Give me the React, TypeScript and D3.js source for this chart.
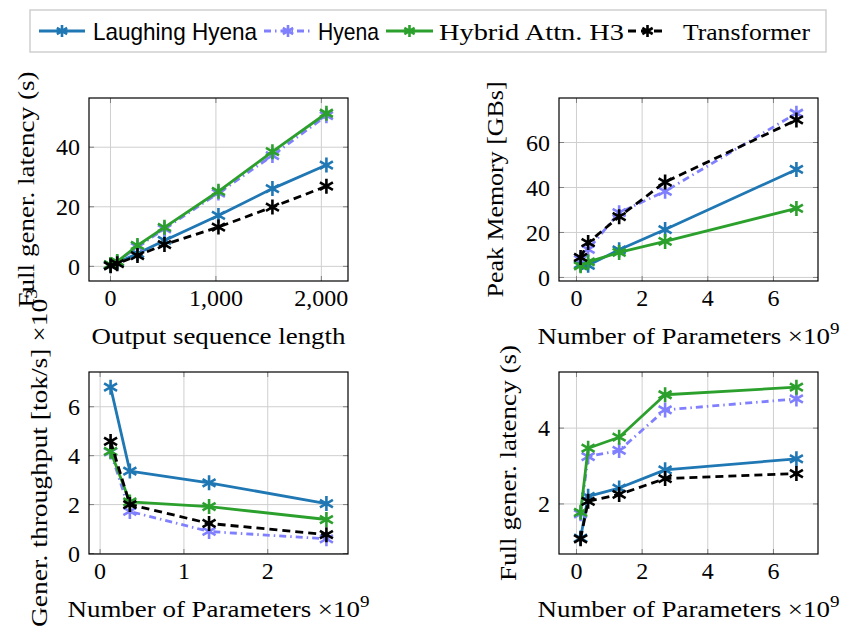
import React from "react";
import * as d3 from "d3";

// ---------- data ----------
const seqLen = [1, 64, 256, 512, 1024, 1536, 2048];
const latSeqLH = [0.3, 1.2, 4.3, 8.7, 17.1, 26.1, 34.0];
const latSeqHyena = [0.5, 1.5, 6.5, 12.6, 24.6, 37.2, 50.6];
const latSeqH3 = [0.6, 1.6, 7.0, 13.1, 25.2, 38.5, 51.4];
const latSeqTF = [0.2, 0.9, 3.6, 7.3, 13.2, 19.9, 26.9];

const params = [0.125, 0.355, 1.3, 2.7, 6.7];
const memLH = [5.8, 5.4, 12.3, 21.3, 48.0];
const memHyena = [8.0, 12.5, 28.8, 38.3, 73.0];
const memH3 = [5.2, 6.9, 11.1, 16.0, 30.7];
const memTF = [8.9, 15.5, 27.0, 42.4, 70.0];

const paramsTp = [0.125, 0.355, 1.3, 2.7];
const tpLH = [6.8, 3.37, 2.89, 2.04];
const tpHyena = [4.15, 1.72, 0.9, 0.6];
const tpH3 = [4.18, 2.11, 1.92, 1.39];
const tpTF = [4.58, 2.0, 1.23, 0.77];

const latLH = [1.1, 2.2, 2.42, 2.9, 3.19];
const latHyena = [1.74, 3.25, 3.41, 4.48, 4.77];
const latH3 = [1.78, 3.47, 3.76, 4.88, 5.08];
const latTF = [1.08, 2.07, 2.25, 2.67, 2.8];

const seriesNames = ["Laughing Hyena", "Hyena", "Hybrid Attn. H3", "Transformer"];

const xTicksSeq = [0, 1000, 2000];
const yTicksSeq = [0, 20, 40];
const xTicksParams = [0, 2, 4, 6];
const yTicksMem = [0, 20, 40, 60];
const xTicksTp = [0, 1, 2];
const yTicksTp = [0, 2, 4, 6];
const yTicksLat = [2, 4];

// ---------- styles ----------
const SERIF = "'Liberation Serif', 'Times New Roman', serif";
const SANS = "'Liberation Sans', Arial, sans-serif";
const STYLES = [
  { color: "#1f77b4", dash: null as string | null, font: SANS },
  { color: "#8080ff", dash: "7,4,1.5,4", font: SANS },
  { color: "#2ca02c", dash: null, font: SERIF },
  { color: "#000000", dash: "8,5", font: SERIF },
];

function starPath(cx: number, cy: number, r: number) {
  const c = Math.cos(Math.PI / 6) * r;
  const s = Math.sin(Math.PI / 6) * r;
  return `M${cx},${cy - r}L${cx},${cy + r}M${cx - c},${cy - s}L${cx + c},${cy + s}M${cx - c},${cy + s}L${cx + c},${cy - s}`;
}

function enlarged(vals: number[]) {
  const [lo, hi] = d3.extent(vals) as [number, number];
  const p = (hi - lo) * 0.1;
  return [lo - p, hi + p];
}

type PanelProps = {
  box: { x: number; y: number; w: number; h: number };
  xs: number[];
  ys: number[][];
  xTicks: number[];
  yTicks: number[];
  xFmt?: (v: number) => string;
  xLabel: React.ReactNode;
  xLabelLen: number;
  yLabel: React.ReactNode;
  yLabelLen: number;
  yLabelX: number;
  yLabelCY: number;
};

function Panel(p: PanelProps) {
  const { box } = p;
  const x = d3.scaleLinear().domain(enlarged(p.xs)).range([box.x, box.x + box.w]);
  const y = d3.scaleLinear().domain(enlarged(p.ys.flat())).range([box.y + box.h, box.y]);
  const line = d3
    .line<number>()
    .x((_, i) => x(p.xs[i]))
    .y((d) => y(d));
  const fmt = p.xFmt || ((v: number) => String(v));
  const tickLen = 5;
  return (
    <g>
      {/* grid */}
      {p.xTicks.map((t) => (
        <line key={"gx" + t} x1={x(t)} x2={x(t)} y1={box.y} y2={box.y + box.h} stroke="#cfcfcf" strokeWidth={1} />
      ))}
      {p.yTicks.map((t) => (
        <line key={"gy" + t} x1={box.x} x2={box.x + box.w} y1={y(t)} y2={y(t)} stroke="#cfcfcf" strokeWidth={1} />
      ))}
      {/* tick marks */}
      {p.xTicks.map((t) => (
        <g key={"tx" + t} stroke="#808080" strokeWidth={1}>
          <line x1={x(t)} x2={x(t)} y1={box.y + box.h} y2={box.y + box.h - tickLen} />
          <line x1={x(t)} x2={x(t)} y1={box.y} y2={box.y + tickLen} />
        </g>
      ))}
      {p.yTicks.map((t) => (
        <g key={"ty" + t} stroke="#808080" strokeWidth={1}>
          <line x1={box.x} x2={box.x + tickLen} y1={y(t)} y2={y(t)} />
          <line x1={box.x + box.w} x2={box.x + box.w - tickLen} y1={y(t)} y2={y(t)} />
        </g>
      ))}
      {/* frame */}
      <rect x={box.x} y={box.y} width={box.w} height={box.h} fill="none" stroke="#000" strokeWidth={1.2} />
      {/* series */}
      {p.ys.map((vals, si) => {
        const st = STYLES[si];
        return (
          <g key={"s" + si}>
            <path
              d={line(vals) || ""}
              fill="none"
              stroke={st.color}
              strokeWidth={2.8}
              strokeDasharray={st.dash || undefined}
              strokeLinejoin="round"
            />
            {vals.map((v, i) => (
              <path key={i} d={starPath(x(p.xs[i]), y(v), 7.5)} stroke={st.color} strokeWidth={2.6} fill="none" />
            ))}
          </g>
        );
      })}
      {/* tick labels */}
      {p.xTicks.map((t) => (
        <text key={"lx" + t} x={x(t)} y={box.y + box.h + 25} textAnchor="middle" fontFamily={SERIF} fontSize={24} fill="#000">
          {fmt(t)}
        </text>
      ))}
      {p.yTicks.map((t) => (
        <text key={"ly" + t} x={box.x - 9} y={y(t)} dy="0.34em" textAnchor="end" fontFamily={SERIF} fontSize={24} fill="#000">
          {t}
        </text>
      ))}
      {/* axis labels */}
      <text
        x={box.x + box.w / 2}
        y={box.y + box.h + 63}
        textAnchor="middle"
        fontFamily={SERIF}
        fontSize={24}
        textLength={p.xLabelLen}
        lengthAdjust="spacingAndGlyphs"
        fill="#000"
      >
        {p.xLabel}
      </text>
      <text
        transform={`translate(${p.yLabelX},${p.yLabelCY}) rotate(-90)`}
        textAnchor="middle"
        fontFamily={SERIF}
        fontSize={24}
        textLength={p.yLabelLen}
        lengthAdjust="spacingAndGlyphs"
        fill="#000"
      >
        {p.yLabel}
      </text>
    </g>
  );
}

const paramsLabel = (
  <>
    Number of Parameters ×10<tspan dy={-10} fontSize={17}>9</tspan>
  </>
);

function Legend() {
  const entries = [
    { x1: 39, x2: 85, tx: 93, tl: 164 },
    { x1: 264, x2: 312, tx: 318, tl: 61 },
    { x1: 386, x2: 433, tx: 439, tl: 185 },
    { x1: 628, x2: 667, tx: 683, tl: 127 },
  ];
  const cy = 31;
  return (
    <g>
      <rect x={30} y={10} width={796} height={42} fill="#fff" stroke="#cccccc" strokeWidth={1.4} />
      {entries.map((e, i) => {
        const st = STYLES[i];
        return (
          <g key={i}>
            <line x1={e.x1} x2={e.x2} y1={cy} y2={cy} stroke={st.color} strokeWidth={2.8} strokeDasharray={st.dash || undefined} />
            <path d={starPath((e.x1 + e.x2) / 2, cy, 6)} stroke={st.color} strokeWidth={2.6} fill="none" />
            <text x={e.tx} y={cy + 8.5} fontFamily={st.font} fontSize={24} textLength={e.tl} lengthAdjust="spacingAndGlyphs" fill="#000">
              {seriesNames[i]}
            </text>
          </g>
        );
      })}
    </g>
  );
}

export default function App() {
  return (
    <svg width={844} height={637} viewBox="0 0 844 637" style={{ display: "block", position: "absolute", left: 0, top: 0, background: "#fff" }}>
      <rect x={0} y={0} width={844} height={637} fill="#fff" />
      <Legend />
      <Panel
        box={{ x: 89, y: 98, w: 259, h: 183 }}
        xs={seqLen}
        ys={[latSeqLH, latSeqHyena, latSeqH3, latSeqTF]}
        xTicks={xTicksSeq}
        yTicks={yTicksSeq}
        xFmt={d3.format(",")}
        xLabel="Output sequence length"
        xLabelLen={254}
        yLabel="Full gener. latency (s)"
        yLabelLen={236}
        yLabelX={34}
        yLabelCY={189.5}
      />
      <Panel
        box={{ x: 559, y: 98, w: 259, h: 183 }}
        xs={params}
        ys={[memLH, memHyena, memH3, memTF]}
        xTicks={xTicksParams}
        yTicks={yTicksMem}
        xLabel={paramsLabel}
        xLabelLen={302}
        yLabel="Peak Memory [GBs]"
        yLabelLen={216}
        yLabelX={503}
        yLabelCY={189.5}
      />
      <Panel
        box={{ x: 89, y: 372, w: 259, h: 182 }}
        xs={paramsTp}
        ys={[tpLH, tpHyena, tpH3, tpTF]}
        xTicks={xTicksTp}
        yTicks={yTicksTp}
        xLabel={paramsLabel}
        xLabelLen={302}
        yLabel={
          <>
            Gener. throughput [tok/s] ×10<tspan dy={-10} fontSize={17}>3</tspan>
          </>
        }
        yLabelLen={338}
        yLabelX={47}
        yLabelCY={458}
      />
      <Panel
        box={{ x: 559, y: 372, w: 259, h: 182 }}
        xs={params}
        ys={[latLH, latHyena, latH3, latTF]}
        xTicks={xTicksParams}
        yTicks={yTicksLat}
        xLabel={paramsLabel}
        xLabelLen={302}
        yLabel="Full gener. latency (s)"
        yLabelLen={236}
        yLabelX={516}
        yLabelCY={463}
      />
    </svg>
  );
}
